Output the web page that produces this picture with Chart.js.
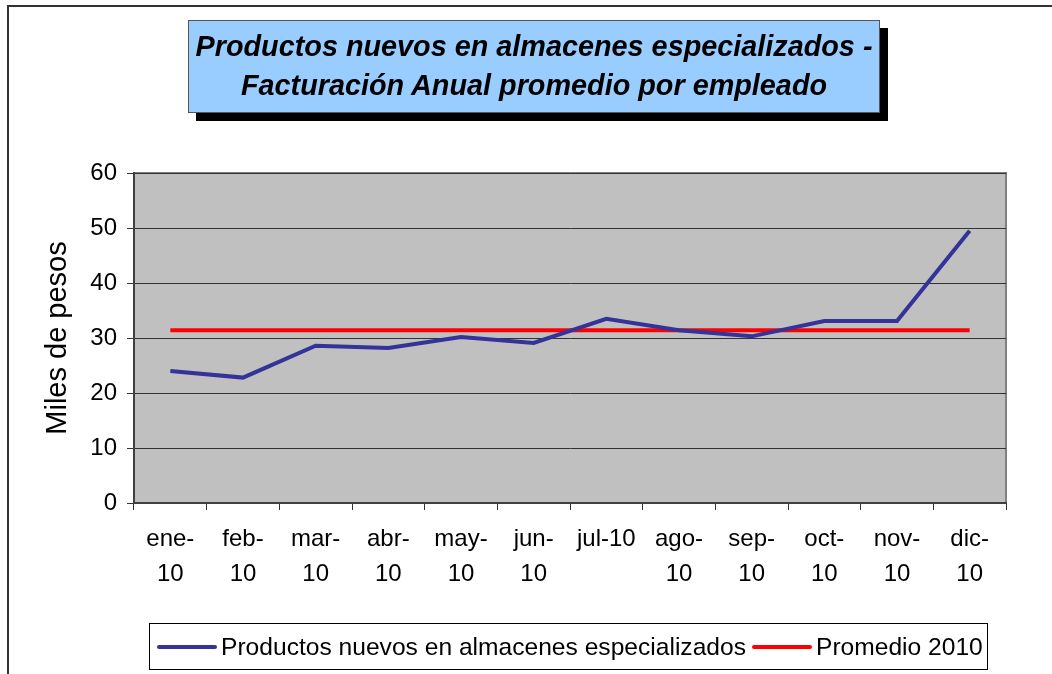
<!DOCTYPE html>
<html lang="es">
<head>
    <meta charset="UTF-8">
    <title>Facturación Anual promedio por empleado</title>
    <script src="https://cdn.jsdelivr.net/npm/chart.js@4.4.0/dist/chart.umd.min.js"></script>
    <style>
        body {
            margin: 0;
            background: #ffffff;
            font-family: "Liberation Sans", Arial, sans-serif;
        }
        .wrap {
            position: relative;
            width: 1052px;
            height: 674px;
            overflow: hidden;
        }
        .frame {
            position: absolute;
            left: 7px;
            top: 5px;
            width: 1100px;
            height: 700px;
            border-left: 2px solid #333333;
            border-top: 2px solid #333333;
        }
        .title-box {
            position: absolute;
            left: 188px;
            top: 20px;
            width: 690px;
            height: 85px;
            background: #99ccff;
            border: 1px solid #555555;
            box-shadow: 8px 8px 0 #000000;
            text-align: center;
            font-weight: bold;
            font-style: italic;
            font-size: 28.8px;
            line-height: 39px;
            padding-top: 6px;
            white-space: nowrap;
            color: #000;
        }
        .legend {
            position: absolute;
            left: 149px;
            top: 623px;
            width: 839px;
            height: 47px;
            border: 1px solid #000000;
            display: flex;
            align-items: center;
            font-size: 24.6px;
            box-sizing: border-box;
            padding-left: 7px;
            white-space: nowrap;
        }
        .swatch {
            display: inline-block;
            width: 60px;
            height: 4px;
            border-radius: 2px;
            margin-right: 4px;
        }
        canvas { position: absolute; left: 0; top: 0; }
    </style>
</head>
<body>
<div class="wrap">
    <div class="frame"></div>
    <canvas id="chart" width="1052" height="674"></canvas>
    <div class="title-box">Productos nuevos en almacenes especializados -<br>Facturación Anual promedio por empleado</div>
    <div class="legend" id="legend"></div>
</div>

<script>
    // categorias (meses 2010)
    const months = [
        ['ene-', '10'], ['feb-', '10'], ['mar-', '10'], ['abr-', '10'],
        ['may-', '10'], ['jun-', '10'], ['jul-10'], ['ago-', '10'],
        ['sep-', '10'], ['oct-', '10'], ['nov-', '10'], ['dic-', '10']
    ];
    // miles de pesos
    const productos = [24.0, 22.8, 28.6, 28.2, 30.2, 29.1, 33.5, 31.4, 30.3, 33.1, 33.1, 49.5];
    const promedio = [31.4, 31.4, 31.4, 31.4, 31.4, 31.4, 31.4, 31.4, 31.4, 31.4, 31.4, 31.4];
    const yTicks = [0, 10, 20, 30, 40, 50, 60];

    const seriesNames = ['Productos nuevos en almacenes especializados', 'Promedio 2010'];
    const seriesColors = ['#333399', '#ff0000'];

    // plot background + gray top/right border
    const plotArea = {
        id: 'plotArea',
        beforeDraw(chart) {
            const { ctx, chartArea: a } = chart;
            ctx.save();
            ctx.fillStyle = '#c0c0c0';
            ctx.fillRect(a.left, a.top, a.right - a.left, a.bottom - a.top);
            ctx.strokeStyle = '#808080';
            ctx.lineWidth = 2;
            ctx.beginPath();
            ctx.moveTo(a.left, a.top);
            ctx.lineTo(a.right, a.top);
            ctx.lineTo(a.right, a.bottom);
            ctx.stroke();
            ctx.restore();
        }
    };

    new Chart(document.getElementById('chart'), {
        type: 'line',
        data: {
            labels: months,
            datasets: [
                {
                    label: seriesNames[0],
                    data: productos,
                    borderColor: seriesColors[0],
                    borderWidth: 4,
                    pointRadius: 0,
                    tension: 0
                },
                {
                    label: seriesNames[1],
                    data: promedio,
                    borderColor: seriesColors[1],
                    borderWidth: 4,
                    pointRadius: 0,
                    tension: 0
                }
            ]
        },
        options: {
            responsive: false,
            animation: false,
            layout: { padding: { top: 173, right: 46, left: 0, bottom: 0 } },
            plugins: {
                legend: { display: false },
                tooltip: { enabled: false }
            },
            scales: {
                x: {
                    offset: true,
                    afterFit: s => { s.height = 171; },
                    grid: {
                        offset: true,
                        drawOnChartArea: false,
                        drawTicks: true,
                        tickLength: 7,
                        color: '#333333'
                    },
                    border: { color: '#404040', width: 2 },
                    ticks: {
                        color: '#000',
                        maxRotation: 0,
                        autoSkip: false,
                        padding: 12,
                        font: { family: 'Liberation Sans', size: 24, lineHeight: 1.45 }
                    }
                },
                y: {
                    min: 0,
                    max: 60,
                    afterFit: s => { s.width = 134; },
                    afterBuildTicks: s => { s.ticks = yTicks.map(v => ({ value: v })); },
                    grid: {
                        color: ctx => ctx.tick && ctx.tick.value === 0 ? 'rgba(0,0,0,0)' : '#333333',
                        tickColor: '#333333',
                        tickLength: 7
                    },
                    border: { color: '#404040', width: 2 },
                    ticks: {
                        color: '#000',
                        padding: 10,
                        font: { family: 'Liberation Sans', size: 24 }
                    },
                    title: {
                        display: true,
                        text: 'Miles de pesos',
                        color: '#000',
                        padding: { top: 41, bottom: 0 },
                        font: { family: 'Liberation Sans', size: 29 }
                    }
                }
            }
        },
        plugins: [plotArea]
    });

    // legend box
    const legend = document.getElementById('legend');
    seriesNames.forEach((name, i) => {
        const sw = document.createElement('span');
        sw.className = 'swatch';
        sw.style.background = seriesColors[i];
        const tx = document.createElement('span');
        tx.textContent = name;
        tx.style.marginRight = i === 0 ? '6px' : '0';
        legend.appendChild(sw);
        legend.appendChild(tx);
    });
</script>
</body>
</html>
